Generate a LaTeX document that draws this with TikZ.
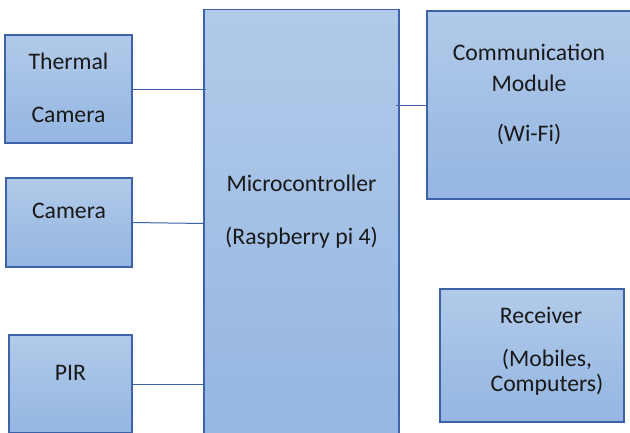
\documentclass[tikz,border=0pt]{standalone}
\usepackage{fontspec}
\setmainfont{Carlito}
\begin{document}
\begin{tikzpicture}[x=1pt,y=-1pt,
  blk/.style={draw=boxedge, line width=1.1pt, top color=boxtop, bottom color=boxbot, anchor=north west, inner sep=0pt, outer sep=0pt},
  lbl/.style={anchor=base, inner sep=0pt, font=\fontsize{23.7}{28}\selectfont, text=black!90},
  wire/.style={draw=boxedge, line width=1pt}]
\definecolor{boxedge}{HTML}{3E62A8}
\definecolor{boxtop}{HTML}{B1CAE9}
\definecolor{boxbot}{HTML}{94B6E1}
\useasboundingbox (0,0) rectangle (630,432);
% blocks
\node[blk, minimum width=127pt, minimum height=108pt] (thermal) at (5,35) {};
\node[blk, minimum width=126pt, minimum height=89pt] (camera) at (6,178) {};
\node[blk, minimum width=123pt, minimum height=98pt] (pir) at (9,335) {};
\node[blk, minimum width=195pt, minimum height=440pt] (micro) at (204,9.5) {};
\node[blk, minimum width=206pt, minimum height=188pt] (comm) at (427,11) {};
\node[blk, minimum width=184pt, minimum height=133pt] (recv) at (440,289) {};
% labels
\node[lbl] (t1) at (68.5,69.3) {Thermal};
\node[lbl] (t2) at (68.5,122.3) {Camera};
\node[lbl] (c1) at (69,218.3) {Camera};
\node[lbl] (p1) at (70.5,380.7) {PIR};
\node[lbl] (m1) at (301.5,191.7) {Microcontroller};
\node[lbl] (m2) at (301.5,244) {(Raspberry pi 4)};
\node[lbl] (w1) at (529,60) {Communication};
\node[lbl] (w2) at (529,91.7) {Module};
\node[lbl] (w3) at (529,141) {(Wi-Fi)};
\node[lbl] (r1) at (541,323) {Receiver};
\node[lbl] (r2) at (547,366) {(Mobiles,};
\node[lbl] (r3) at (547,391) {Computers)};
% connectors
\draw[wire] (thermal.east) -- ([xshift=2pt]thermal.east -| micro.west);
\draw[wire] (camera.east) -- ([yshift=-1pt]camera.east -| micro.west);
\draw[wire] (pir.east) -- (pir.east -| micro.west);
\draw[wire] ([xshift=-3pt]comm.west -| micro.east) -- (comm.west);
\end{tikzpicture}
\end{document}
